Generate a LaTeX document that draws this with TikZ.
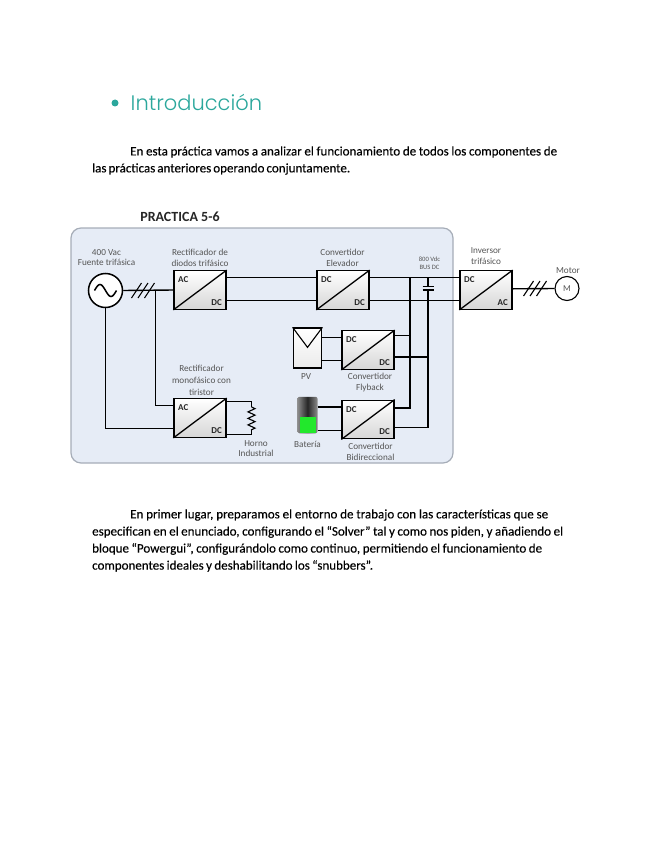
\documentclass[tikz,border=0pt]{standalone}
\usepackage{fontspec}
\setmainfont{Carlito}
\newfontfamily\headfont{Poppins Light}
\newfontfamily\bodyfont[FakeBold=0.2]{Carlito}
\usetikzlibrary{calc, positioning, decorations.pathmorphing}
\definecolor{panelblue}{HTML}{E6ECF6}
\definecolor{panelline}{HTML}{A6ADB8}
\definecolor{labelgray}{HTML}{555555}
\definecolor{headteal}{HTML}{2BA79C}
\definecolor{battgreen}{HTML}{22E82C}
\newcommand{\bodyline}[2]{\makebox[#1pt][s]{#2}}

\begin{document}
\begin{tikzpicture}[
            x=1pt, y=-1pt,
            conv/.style={draw, line width=1.4pt, minimum width=52pt, minimum height=38.5pt,
                         inner sep=0pt, top color=white, bottom color=black!16},
            tag/.style={font=\fontsize{9}{10}\selectfont\bfseries, text=black!85, inner sep=0pt},
            lbl/.style={font=\fontsize{9.2}{10.5}\selectfont, text=labelgray, align=center, inner sep=0pt},
            wire/.style={line width=1.4pt, line join=miter},
            para/.style={anchor=west, inner sep=0pt, font=\bodyfont\fontsize{13}{14}\selectfont, text=black}]
            \useasboundingbox (0,0) rectangle (655,848);

            %% ── Page text ─────────────────────────────────────────────────
            \node[circle, fill=headteal, minimum size=7pt, inner sep=0pt] (bullet) at (115,103) {};
            \node[anchor=west, inner sep=0pt, text=headteal, font=\headfont\fontsize{21}{24}\selectfont]
                                                  (heading) at (130.5,102.5) {Introducción};
            \node[para] (introA) at (130,152) {\bodyline{427}{En esta práctica vamos a analizar el funcionamiento de todos los componentes de}};
            \node[para] (introB) at (92,169)  {\bodyline{258}{las prácticas anteriores operando conjuntamente.}};
            \node[para] (stepA)  at (130,515) {\bodyline{418}{En primer lugar, preparamos el entorno de trabajo con las características que se}};
            \node[para] (stepB)  at (92,532)  {\bodyline{471}{especifican en el enunciado, configurando el “Solver” tal y como nos piden, y añadiendo el}};
            \node[para] (stepC)  at (92,549)  {\bodyline{450}{bloque “Powergui”, configurándolo como continuo, permitiendo el funcionamiento de}};
            \node[para] (stepD)  at (92,566)  {\bodyline{281}{componentes ideales y deshabilitando los “snubbers”.}};

            %% ── Panel ─────────────────────────────────────────────────────
            \node[draw=panelline, line width=1.2pt, fill=panelblue, rounded corners=10pt,
                  minimum width=382pt, minimum height=235pt, inner sep=0pt] (panel) at (262,345.5) {};
            \node[font=\fontsize{14}{16}\selectfont\bfseries, text=black!85, inner sep=0pt] (title) at (180,217) {PRACTICA 5-6};

            %% ── Converters ────────────────────────────────────────────────
            \foreach \n/\x/\y/\a/\b/\p/\q in {diode/200/290/AC/DC/.19/.77, boost/343/290/DC/DC/.19/.77,
                    invert/486/290/DC/AC/.47/.47, flyback/368/350/DC/DC/.13/.68,
                    thyr/200/418/AC/DC/.09/.91, bidir/368/419.5/DC/DC/.21/.70} {
                \node[conv] (\n) at (\x,\y) {};
                \draw[line width=1.3pt] (\n.south west) -- (\n.north east);
                \node[tag] (\n-a) at ($(\n.north west)+(10,10)$) {\a};
                \node[tag] (\n-b) at ($(\n.south east)+(-10,-7.5)$) {\b};
                \coordinate (\n-in1) at ($(\n.north west)!.19!(\n.south west)$);
                \coordinate (\n-in2) at ($(\n.north west)!.77!(\n.south west)$);
                \coordinate (\n-out1) at ($(\n.north east)!\p!(\n.south east)$);
                \coordinate (\n-out2) at ($(\n.north east)!\q!(\n.south east)$);
            }

            %% ── Sources and loads ─────────────────────────────────────────
            \node[draw, circle, line width=1.5pt, fill=white, minimum size=34pt, inner sep=0pt] (source) at (105.5,290.5) {};
            \draw[line width=1.5pt] ($(source)+(-11,0)$) sin ++(5.5,-6) cos ++(5.5,6) sin ++(5.5,6) cos ++(5.5,-6);
            \node[draw, circle, line width=1.1pt, fill=white, minimum size=24pt, inner sep=0pt,
                  font=\fontsize{9}{10}\selectfont, text=labelgray] (motor) at (567,288.5) {M};
            \node[draw, line width=1.3pt, top color=white, bottom color=black!8,
                  minimum width=28.5pt, minimum height=40pt, inner sep=0pt] (pv) at (307.5,348) {};
            \draw[line width=1.1pt] (pv.north west) -- ($(pv.north)+(0,20)$) -- (pv.north east);
            \node[rounded corners=2pt, minimum width=20pt, minimum height=36.5pt, inner sep=0pt,
                  left color=black!45, right color=black!45, middle color=black!85] (batt) at (307.5,415) {};
            \node[minimum width=16pt, minimum height=15.5pt, inner sep=0pt,
                  fill=battgreen, above=0.5pt of batt.south] (battcell) {};

            %% ── Labels ────────────────────────────────────────────────────
            \node[lbl] (sourcelbl) at (106.5,257.5) {400 Vac\\Fuente trifásica};
            \node[lbl] (diodelbl)  at (200,258)     {Rectificador de\\diodos trifásico};
            \node[lbl] (boostlbl)  at (342.5,258)   {Convertidor\\Elevador};
            \node[lbl, font=\fontsize{6.6}{8}\selectfont] (buslbl) at (429.5,263.5) {800 Vdc\\BUS DC};
            \node[lbl] (invertlbl) at (486,256)     {Inversor\\trifásico};
            \node[lbl] (motorlbl)  at (568,270.5)   {Motor};
            \node[lbl] (pvlbl)     at (306,377)     {PV};
            \node[lbl] (flybacklbl) at (370,382.5)  {Convertidor\\Flyback};
            \node[lbl] (battlbl)   at (307.5,444.5) {Batería};
            \node[lbl] (bidirlbl)  at (370.5,452)   {Convertidor\\Bidireccional};
            \node[lbl, font=\fontsize{9.2}{12}\selectfont] (thyrlbl) at (201.5,380) {Rectificador\\monofásico con\\tiristor};
            \node[lbl] (heaterlbl) at (256,448.5)   {Horno\\Industrial};

            %% ── Wires ─────────────────────────────────────────────────────
            \coordinate (branch)   at (155.5,290.5);
            \coordinate (busA)     at (410,277.5);
            \coordinate (busB)     at (428,277.5);
            \coordinate (capUp)    at (428,286.5);
            \coordinate (capDown)  at (428,290);
            \coordinate (heaterUp) at (251.5,407);
            \coordinate (heaterDn) at (251.5,430);

            \draw[wire] (source.east) -- (diode.west);
            \draw[wire] (source.south) |- (thyr-in2);
            \draw[wire] (branch) |- (thyr-in1);
            \draw[wire] (diode-out1) -- (boost-in1);
            \draw[wire] (diode-out2) -- (boost-in2);
            \draw[wire] (boost-out1) -- (invert-in1);
            \draw[wire] (boost-out2) -- (invert-in2);
            \draw[wire] (invert-out1) -- (motor.west);

            \draw[wire] (busA) |- (bidir-out1);
            \draw[wire] (busB) -- (capUp);
            \draw[wire] (capDown) |- (bidir-out2);
            \draw[wire] (flyback-out1) -- (flyback-out1 -| busA);
            \draw[wire] (flyback-out2) -- (flyback-out2 -| busB);
            \draw[line width=1.5pt] ($(capUp)+(-5.5,0)$) -- ($(capUp)+(5.5,0)$);
            \draw[line width=1.5pt] ($(capDown)+(-5.5,0)$) -- ($(capDown)+(5.5,0)$);

            \draw[wire] (pv.east |- flyback-in1) -- (flyback-in1);
            \draw[wire] (pv.east |- flyback-in2) -- (flyback-in2);
            \draw[wire] (batt.east |- bidir-in1) -- (bidir-in1);
            \draw[wire] (batt.east |- bidir-in2) -- (bidir-in2);

            \draw[line width=1.1pt] (thyr-out1) -| (heaterUp);
            \draw[line width=1.1pt] (thyr-out2) -| (heaterDn);
            \draw[line width=1.1pt, decorate, decoration={zigzag, amplitude=3.5pt, segment length=6.5pt}] (heaterUp) -- (heaterDn);

            %% ── Three phase marks ─────────────────────────────────────────
            \foreach \d in {-6.5,0,6.5} {
                \draw[line width=1.1pt] ($(143,290.5)+(\d-5,7.5)$) -- ($(143,290.5)+(\d+5,-7.5)$);
                \draw[line width=1.1pt] ($(535,288.5)+(\d-5,7.5)$) -- ($(535,288.5)+(\d+5,-7.5)$);
            }
        \end{tikzpicture}
\end{document}
